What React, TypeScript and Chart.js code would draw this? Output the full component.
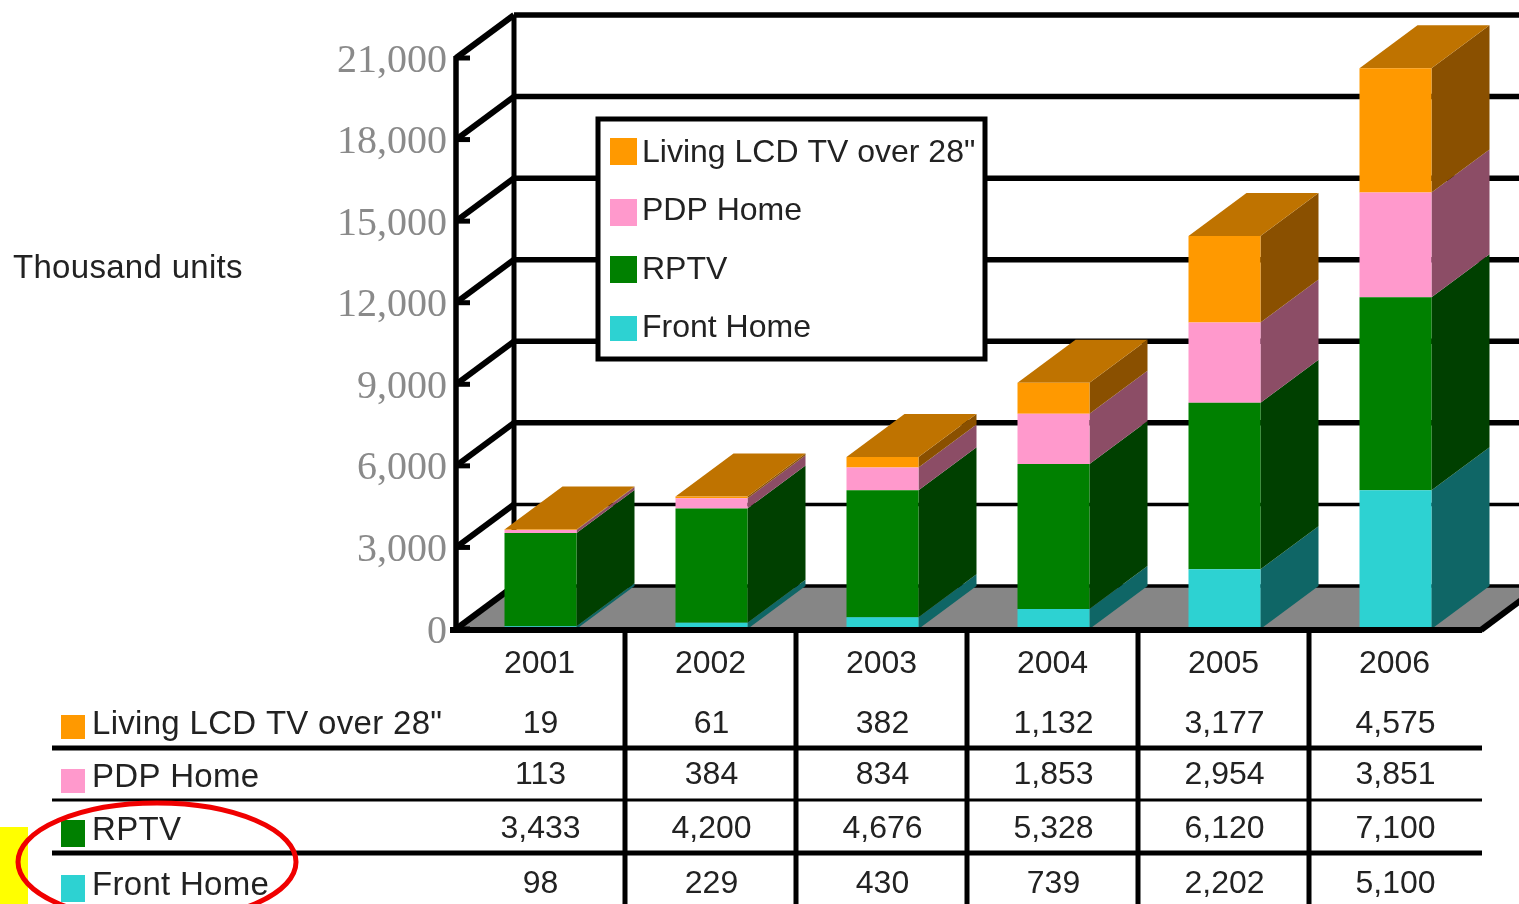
import React, { useEffect, useRef } from "react";
import { Chart, registerables } from "chart.js";

Chart.register(...registerables);

const years = ["2001", "2002", "2003", "2004", "2005", "2006"];
const frontHome = [98, 229, 430, 739, 2202, 5100];
const rptv = [3433, 4200, 4676, 5328, 6120, 7100];
const pdpHome = [113, 384, 834, 1853, 2954, 3851];
const livingLcd = [19, 61, 382, 1132, 3177, 4575];

const seriesNames = ["Front Home", "RPTV", "PDP Home", 'Living LCD TV over 28"'];
const frontColors = ["#2DD2D2", "#008000", "#FF99CC", "#FF9900"];
const sideColors = ["#0F6666", "#004000", "#8C4D66", "#8A5000"];
const topColors = ["#177F7F", "#006000", "#BF7399", "#BF7300"];

const axisTitle = "Thousand units";

const DEPTH_X = 58;
const DEPTH_Y = -43;
const SANS = '"Liberation Sans", Arial, sans-serif';

const fmt = (v: number) => v.toLocaleString("en-US");

const line = (ctx: any, x1: number, y1: number, x2: number, y2: number, w: number, color = "#000") => {
  ctx.strokeStyle = color;
  ctx.lineWidth = w;
  ctx.beginPath();
  ctx.moveTo(x1, y1);
  ctx.lineTo(x2, y2);
  ctx.stroke();
};

const poly = (ctx: any, pts: number[][], color: string) => {
  ctx.fillStyle = color;
  ctx.beginPath();
  pts.forEach(([x, y], i) => (i ? ctx.lineTo(x, y) : ctx.moveTo(x, y)));
  ctx.closePath();
  ctx.fill();
};

// Back wall, floor and the depth faces of the columns, all behind the bar fronts.
const depthPlugin = {
  id: "depth",
  beforeDatasetsDraw(chart: any) {
    const { ctx, chartArea, scales } = chart;
    const yScale = scales.y;
    const axisX = chartArea.left + 1;
    const floorRight = chartArea.right + 1;
    const floorY = yScale.getPixelForValue(0);
    ctx.save();

    poly(ctx, [
      [axisX, floorY],
      [axisX + DEPTH_X, floorY + DEPTH_Y],
      [floorRight + DEPTH_X, floorY + DEPTH_Y],
      [floorRight, floorY],
    ], "#868686");

    yScale.ticks.forEach((t: any) => {
      const y = yScale.getPixelForValue(t.value);
      const w = t.value <= 3000 ? 3.5 : 5.5;
      line(ctx, axisX + DEPTH_X, y + DEPTH_Y, 1519, y + DEPTH_Y, w);
      line(ctx, axisX, y, axisX + DEPTH_X, y + DEPTH_Y, 6);
      line(ctx, axisX, y, axisX + 14, y, 5);
    });
    line(ctx, axisX + DEPTH_X, yScale.getPixelForValue(21000) + DEPTH_Y, axisX + DEPTH_X, floorY + DEPTH_Y, 5);
    line(ctx, axisX, yScale.getPixelForValue(21000) - 2, axisX, floorY, 5.5);

    const metas = chart.getSortedVisibleDatasetMetas();
    years.forEach((_, col) => {
      metas.forEach((meta: any, s: number) => {
        const bar = meta.data[col];
        const { x, y, base, width } = bar.getProps(["x", "y", "base", "width"]);
        const l = x - width / 2;
        const r = x + width / 2;
        poly(ctx, [
          [r, base],
          [r + DEPTH_X, base + DEPTH_Y],
          [r + DEPTH_X, y + DEPTH_Y],
          [r, y],
        ], sideColors[s]);
        if (s === metas.length - 1) {
          poly(ctx, [
            [l, y],
            [l + DEPTH_X, y + DEPTH_Y],
            [r + DEPTH_X, y + DEPTH_Y],
            [r, y],
          ], topColors[s]);
        }
      });
    });
    ctx.restore();
  },
  afterDatasetsDraw(chart: any) {
    const { ctx, chartArea, scales } = chart;
    const xScale = scales.x;
    const floorY = scales.y.getPixelForValue(0);
    const floorRight = chartArea.right + 1;
    ctx.save();

    // front edge of the floor
    line(ctx, chartArea.left - 5, floorY + 1, floorRight, floorY + 1, 6);
    line(ctx, floorRight - 1, floorY + 1, floorRight - 1 + DEPTH_X, floorY + 1 + DEPTH_Y, 6);

    // inset legend
    ctx.fillStyle = "#fff";
    ctx.fillRect(598, 119, 387, 240);
    ctx.strokeStyle = "#000";
    ctx.lineWidth = 5;
    ctx.strokeRect(598, 119, 387, 240);
    const legendSwatchY = [138, 199, 256, 316];
    const legendTextY = [153, 211, 270, 328];
    ctx.font = `32px ${SANS}`;
    ctx.textBaseline = "middle";
    ctx.textAlign = "left";
    [3, 2, 1, 0].forEach((s, i) => {
      ctx.fillStyle = frontColors[s];
      ctx.fillRect(610, legendSwatchY[i], 27, i === 3 ? 25 : 27);
      ctx.fillStyle = "#222";
      ctx.fillText(seriesNames[s], 642, legendTextY[i]);
    });

    // axis title
    ctx.font = `33px ${SANS}`;
    ctx.letterSpacing = "0.3px";
    ctx.fillStyle = "#222";
    ctx.fillText(axisTitle, 13, 269);

    // data table under the plot
    const rowValues = [livingLcd, pdpHome, rptv, frontHome];
    const rowSeries = [3, 2, 1, 0];
    const rowLabelY = [725, 778, 831, 886];
    const rowValueY = [724, 775, 829, 884];
    const swatchY = [715, 769, 820, 875];
    rowValues.forEach((vals, i) => {
      const s = rowSeries[i];
      ctx.fillStyle = frontColors[s];
      ctx.fillRect(61, swatchY[i], 24, i > 1 ? 27 : 24);
      ctx.fillStyle = "#222";
      ctx.textAlign = "left";
      ctx.font = `33px ${SANS}`;
      ctx.letterSpacing = "0.3px";
      ctx.fillText(seriesNames[s], 92, rowLabelY[i]);
      ctx.textAlign = "center";
      ctx.font = `32px ${SANS}`;
      ctx.letterSpacing = "0px";
      vals.forEach((v, c) => {
        ctx.fillText(fmt(v), xScale.getPixelForValue(c), rowValueY[i]);
      });
    });
    line(ctx, 52, 748, 1482, 748, 5);
    line(ctx, 52, 800, 1482, 800, 3);
    line(ctx, 52, 853, 1482, 853, 5);
    for (let c = 1; c < years.length; c++) {
      const edge = (xScale.getPixelForValue(c - 1) + xScale.getPixelForValue(c)) / 2 - 1;
      line(ctx, edge, floorY + 1, edge, 904, 5);
    }

    // highlight around the RPTV and Front Home rows
    ctx.fillStyle = "#FFFF00";
    ctx.fillRect(0, 827, 28, 77);
    ctx.strokeStyle = "#F00000";
    ctx.lineWidth = 5;
    ctx.beginPath();
    ctx.ellipse(157, 862, 139, 59, 0, 0, Math.PI * 2);
    ctx.stroke();
    ctx.restore();
  },
};

export default function App() {
  const ref = useRef<HTMLCanvasElement>(null);
  useEffect(() => {
    const series = [frontHome, rptv, pdpHome, livingLcd];
    const chart = new Chart(ref.current!, {
      type: "bar",
      data: {
        labels: years,
        datasets: series.map((data, i) => ({
          label: seriesNames[i],
          data,
          backgroundColor: frontColors[i],
          borderWidth: 0,
          inflateAmount: 0,
          barThickness: 72,
        })),
      },
      options: {
        animation: false,
        responsive: false,
        layout: { padding: { left: 0, top: 58, right: 38, bottom: 0 } },
        plugins: { legend: { display: false }, tooltip: { enabled: false } },
        scales: {
          x: {
            stacked: true,
            afterFit: (s: any) => {
              s.height = 275;
            },
            grid: { display: false, drawTicks: false },
            border: { display: false },
            ticks: {
              padding: 16,
              labelOffset: -1,
              autoSkip: false,
              maxRotation: 0,
              color: "#222",
              font: { family: SANS, size: 32 },
            },
          },
          y: {
            stacked: true,
            min: 0,
            max: 21000,
            afterFit: (s: any) => {
              s.width = 455;
            },
            grid: { display: false, drawTicks: false },
            border: { display: false },
            ticks: {
              stepSize: 3000,
              padding: 8,
              labelOffset: 3,
              color: "#8a8a8a",
              font: { family: '"Liberation Serif", serif', size: 40 },
              callback: (v: any) => fmt(Number(v)),
            },
          },
        },
      },
      plugins: [depthPlugin],
    } as any);
    return () => chart.destroy();
  }, []);
  return (
    <div style={{ position: "absolute", left: 0, top: 0, width: 1519, height: 904, overflow: "hidden" }}>
      <canvas ref={ref} width={1519} height={904} style={{ display: "block" }} />
    </div>
  );
}
